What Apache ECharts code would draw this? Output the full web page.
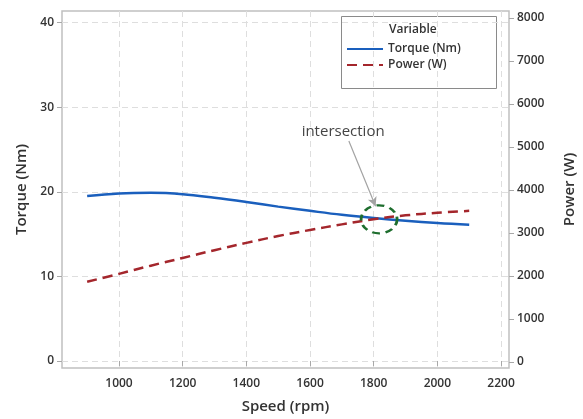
<!DOCTYPE html>
<html>
<head>
<meta charset="utf-8">
<script src="https://cdn.jsdelivr.net/npm/echarts@6/dist/echarts.min.js"></script>
<style>
    html, body { margin: 0; padding: 0; background: #fff; }
    #chart { width: 583px; height: 419px; }
</style>
</head>
<body>
<div id="chart"></div>
<script>
// speed in rpm
const speed = [900, 1000, 1100, 1200, 1300, 1400, 1500, 1600, 1700, 1800, 1900, 2000, 2100];
const torque = [19.5, 19.8, 19.88, 19.72, 19.3, 18.8, 18.25, 17.75, 17.28, 16.9, 16.58, 16.32, 16.12];
const power = [1867, 2050, 2240, 2420, 2600, 2770, 2930, 3070, 3200, 3320, 3410, 3470, 3515];

const speedTicks = [1000, 1200, 1400, 1600, 1800, 2000, 2200];
const torqueTicks = [0, 10, 20, 30, 40];
const powerTicks = [0, 1000, 2000, 3000, 4000, 5000, 6000, 7000, 8000];

const font = '"Open Sans", "Noto Sans", sans-serif';
const gridColor = '#dedede';
const frameColor = '#c0c0c0';

const chart = echarts.init(document.getElementById('chart'));

const tickStyle = { show: true, length: 5, lineStyle: { color: '#a8a8a8' } };
const labelStyle = { color: '#333', fontSize: 12, fontFamily: font, fontWeight: 600, formatter: v => String(v) };
const nameStyle = { color: '#333', fontSize: 15, fontFamily: font, fontWeight: 600 };

const option = {
    animation: false,
    grid: {
        left: 62, right: 74, top: 11, bottom: 51,
        outerBoundsMode: 'none',
        show: true, borderColor: frameColor, borderWidth: 1.5
    },
    legend: {
        orient: 'vertical',
        left: 341, top: 38,
        itemWidth: 36, itemHeight: 12, itemGap: 4,
        itemStyle: { opacity: 0 },
        textStyle: { color: '#333', fontSize: 12, fontFamily: font, fontWeight: 600 },
        data: ['Torque (Nm)', 'Power (W)']
    },
    graphic: [
        { type: 'rect', shape: { x: 341.5, y: 16.5, width: 155, height: 72 },
          style: { fill: '#fff', stroke: '#8a8a8a', lineWidth: 1 }, z: -1 },
        { type: 'text', left: 389, top: 24,
          style: { text: 'Variable', fill: '#333', font: '600 12px ' + font } }
    ],
    xAxis: {
        type: 'value', min: 821, max: 2225,
        name: 'Speed (rpm)', nameLocation: 'middle', nameGap: 31, nameTextStyle: nameStyle,
        axisLine: { show: false },
        axisTick: Object.assign({ customValues: speedTicks }, tickStyle),
        axisLabel: Object.assign({ customValues: speedTicks, margin: 10 }, labelStyle),
        splitLine: { show: true, lineStyle: { color: gridColor, type: [6, 4] } }
    },
    yAxis: [
        {
            type: 'value', min: -0.83, max: 41.38,
            name: 'Torque (Nm)', nameLocation: 'middle', nameGap: 27, nameTextStyle: nameStyle,
            axisLine: { show: false },
            axisTick: Object.assign({ customValues: torqueTicks }, tickStyle),
            axisLabel: Object.assign({ customValues: torqueTicks, margin: 8 }, labelStyle),
            splitLine: { show: true, lineStyle: { color: gridColor, type: [6, 4] } }
        },
        {
            type: 'value', min: -140, max: 8163, position: 'right',
            name: 'Power (W)', nameLocation: 'middle', nameGap: 53, nameTextStyle: nameStyle,
            axisLine: { show: false },
            axisTick: Object.assign({ customValues: powerTicks }, tickStyle),
            axisLabel: Object.assign({ customValues: powerTicks, margin: 8 }, labelStyle),
            splitLine: { show: false }
        }
    ],
    series: [
        {
            name: 'Torque (Nm)', type: 'line', yAxisIndex: 0,
            smooth: 0.4, symbol: 'none',
            data: speed.map((s, i) => [s, torque[i]]),
            lineStyle: { color: '#1a5fbd', width: 2.5 },
            itemStyle: { color: '#1a5fbd' },
            markLine: {
                silent: true, symbol: ['none', 'arrow'], symbolSize: [7, 9],
                lineStyle: { color: '#a3a3a3', width: 1.2, type: 'solid' },
                label: { show: false },
                data: [[{ coord: [1722, 26.0] }, { coord: [1806, 18.3] }]]
            },
            markPoint: {
                silent: true,
                data: [
                    {
                        coord: [1817, 16.75], symbol: 'circle', symbolSize: [36, 28],
                        itemStyle: { color: 'rgba(0,0,0,0)', borderColor: '#1e6e2e', borderWidth: 2.5, borderType: [7, 5] },
                        label: { show: false }
                    },
                    {
                        coord: [1704, 27.05], symbol: 'rect', symbolSize: [2, 2],
                        itemStyle: { color: 'rgba(0,0,0,0)' },
                        label: { show: true, formatter: 'intersection', color: '#444', fontSize: 15, fontFamily: font, position: 'inside' }
                    }
                ]
            }
        },
        {
            name: 'Power (W)', type: 'line', yAxisIndex: 1,
            smooth: 0.4, symbol: 'none',
            data: speed.map((s, i) => [s, power[i]]),
            lineStyle: { color: '#a4262c', width: 2.5, type: [10, 6] },
            itemStyle: { color: '#a4262c' }
        }
    ]
};

chart.setOption(option);
</script>
</body>
</html>
